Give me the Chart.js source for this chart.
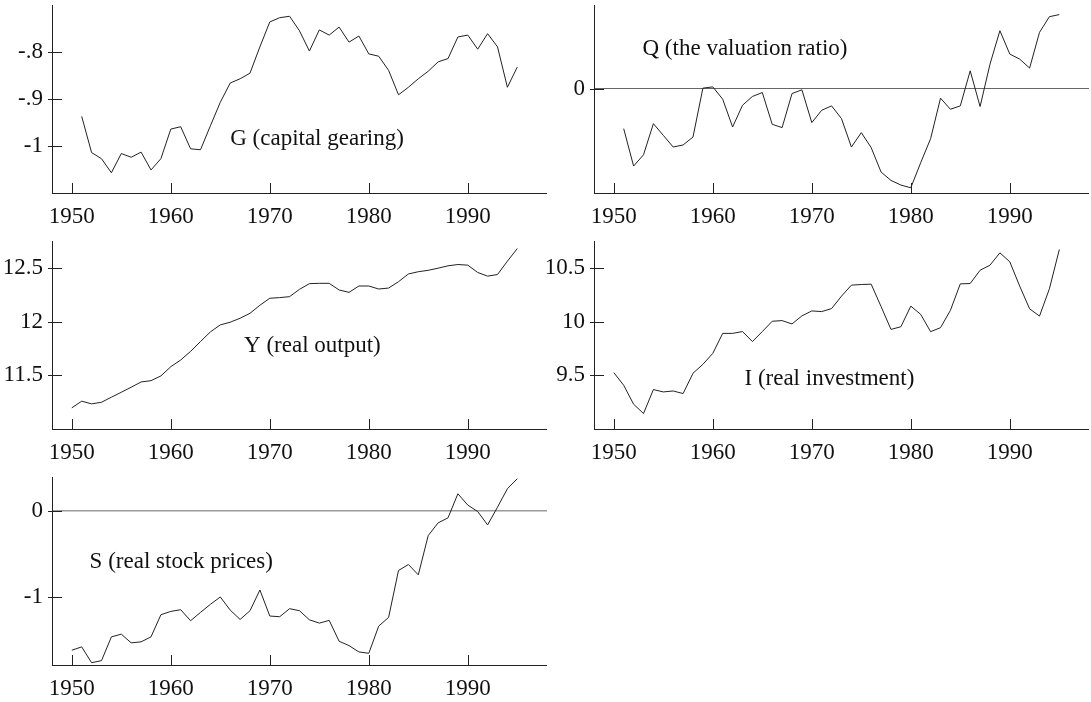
<!DOCTYPE html>
<html>
<head>
<meta charset="utf-8">
<script src="https://cdn.jsdelivr.net/npm/chart.js@4"></script>
<style>
  html, body { margin: 0; padding: 0; background: #fff; }
  #wrap { position: relative; width: 1091px; height: 702px; overflow: hidden; }
  #wrap canvas { position: absolute; }
</style>
</head>
<body>
<div id="wrap">
  <canvas id="cG"></canvas>
  <canvas id="cQ"></canvas>
  <canvas id="cY"></canvas>
  <canvas id="cI"></canvas>
  <canvas id="cS"></canvas>
</div>
<script>
'use strict';

// ---------- data (annual) ----------
const years50 = [1950, 1951, 1952, 1953, 1954, 1955, 1956, 1957, 1958, 1959,
  1960, 1961, 1962, 1963, 1964, 1965, 1966, 1967, 1968, 1969,
  1970, 1971, 1972, 1973, 1974, 1975, 1976, 1977, 1978, 1979,
  1980, 1981, 1982, 1983, 1984, 1985, 1986, 1987, 1988, 1989,
  1990, 1991, 1992, 1993, 1994, 1995];
const years51 = years50.slice(1);

// G (capital gearing), 1951-1995
const gearing = [-0.937, -1.014, -1.027, -1.057, -1.016, -1.024, -1.013, -1.051, -1.027, -0.964,
  -0.959, -1.006, -1.008, -0.957, -0.907, -0.866, -0.857, -0.845, -0.789, -0.736,
  -0.727, -0.724, -0.755, -0.798, -0.753, -0.764, -0.747, -0.779, -0.766, -0.804,
  -0.809, -0.839, -0.891, -0.875, -0.857, -0.841, -0.821, -0.814, -0.768, -0.764,
  -0.794, -0.761, -0.789, -0.875, -0.832];

// Q (the valuation ratio), 1951-1995
const valuation = [-0.192, -0.371, -0.317, -0.168, -0.224, -0.28, -0.27, -0.232, 0.002, 0.008,
  -0.051, -0.184, -0.08, -0.038, -0.019, -0.171, -0.187, -0.024, -0.006, -0.163,
  -0.104, -0.083, -0.144, -0.28, -0.211, -0.283, -0.4, -0.44, -0.462, -0.475,
  -0.355, -0.24, -0.046, -0.099, -0.083, 0.085, -0.086, 0.117, 0.277, 0.165,
  0.141, 0.098, 0.269, 0.344, 0.354];

// Y (real output), 1950-1995
const output = [11.197, 11.259, 11.234, 11.249, 11.296, 11.342, 11.389, 11.438, 11.45, 11.494,
  11.58, 11.642, 11.723, 11.814, 11.904, 11.969, 11.994, 12.031, 12.077, 12.152,
  12.217, 12.223, 12.232, 12.3, 12.353, 12.356, 12.356, 12.294, 12.272, 12.331,
  12.331, 12.303, 12.312, 12.371, 12.443, 12.464, 12.477, 12.497, 12.519, 12.531,
  12.525, 12.457, 12.423, 12.438, 12.562, 12.68];

// I (real investment), 1950-1995
const investment = [9.525, 9.407, 9.231, 9.144, 9.367, 9.345, 9.354, 9.33, 9.519, 9.602,
  9.704, 9.89, 9.89, 9.907, 9.814, 9.907, 10.003, 10.009, 9.978, 10.053,
  10.099, 10.093, 10.121, 10.237, 10.339, 10.345, 10.348, 10.139, 9.927, 9.952,
  10.144, 10.067, 9.906, 9.943, 10.104, 10.351, 10.354, 10.478, 10.525, 10.64,
  10.556, 10.33, 10.119, 10.051, 10.305, 10.67];

// S (real stock prices), 1950-1995
const stockPrices = [-1.627, -1.588, -1.773, -1.749, -1.471, -1.439, -1.541, -1.529, -1.471, -1.212,
  -1.173, -1.153, -1.282, -1.184, -1.09, -1.004, -1.157, -1.267, -1.165, -0.922,
  -1.227, -1.235, -1.141, -1.165, -1.271, -1.31, -1.278, -1.522, -1.573, -1.647,
  -1.663, -1.345, -1.243, -0.694, -0.624, -0.745, -0.286, -0.137, -0.078, 0.204,
  0.071, -0.004, -0.161, 0.047, 0.263, 0.38];

// ---------- helpers ----------
const FONT = "'Liberation Serif', 'Times New Roman', Times, serif";
const FS = 23;
const INK = '#222';
const near = (v, step) => Math.abs(v / step - Math.round(v / step)) < 1e-6;
const fmt = (v) => String(+v.toFixed(3)).replace(/^(-?)0\./, '$1.');
const points = (xs, ys) => xs.map((x, i) => ({ x, y: ys[i] }));

// inward tick marks (long for majors) + the caption inside the plot
const tickMarks = {
  id: 'tickMarks',
  afterDraw(chart, args, o) {
    const { ctx, chartArea: a, scales: { x, y } } = chart;
    ctx.save();
    ctx.strokeStyle = INK;
    ctx.lineWidth = 1;
    ctx.beginPath();
    for (const t of x.ticks) {
      const px = Math.round(x.getPixelForValue(t.value)) + 0.5;
      ctx.moveTo(px, a.bottom);
      ctx.lineTo(px, a.bottom - (near(t.value, 10) ? 10 : 5));
    }
    for (const t of y.ticks) {
      const py = Math.round(y.getPixelForValue(t.value)) + 0.5;
      const major = near(t.value, o.yMajor);
      ctx.moveTo(a.left - (major ? 4 : 0), py);
      ctx.lineTo(a.left + (major ? 10 : 5), py);
    }
    ctx.stroke();
    ctx.fillStyle = '#111';
    ctx.font = `${FS}px ${FONT}`;
    ctx.textBaseline = 'middle';
    ctx.fillText(o.caption, x.getPixelForValue(o.at[0]), y.getPixelForValue(o.at[1]));
    ctx.restore();
  },
};

function makePanel(id, box, xs, ys, ax) {
  const cv = document.getElementById(id);
  cv.width = box.w;
  cv.height = box.h;
  cv.style.left = box.left + 'px';
  cv.style.top = box.top + 'px';
  const zero = ax.zero;
  return new Chart(cv, {
    type: 'line',
    data: { datasets: [{ data: points(xs, ys), borderColor: INK, borderWidth: 1, pointRadius: 0, tension: 0 }] },
    options: {
      responsive: false, animation: false, events: [],
      layout: { padding: { top: box.padTop, left: 0, right: 0, bottom: 0 } },
      plugins: {
        legend: { display: false }, tooltip: { enabled: false },
        tickMarks: { yMajor: ax.major, caption: ax.caption, at: ax.at },
      },
      scales: {
        x: {
          type: 'linear', min: 1948, max: 1998,
          grid: { display: false, drawTicks: false },
          border: { display: true, color: INK, width: 1 },
          ticks: {
            stepSize: 2, autoSkip: false, maxRotation: 0, padding: 10, color: '#111',
            font: { family: FONT, size: FS },
            callback: (v) => (near(v, 10) ? String(v) : null),
          },
          afterFit(s) { s.height = box.axisH; s.paddingLeft = 0; s.paddingRight = 0; },
        },
        y: {
          min: ax.min, max: ax.max,
          grid: zero
            ? { display: true, drawTicks: false,
                color: (c) => (c.tick && Math.abs(c.tick.value) < 1e-9 ? zero.color : 'rgba(0,0,0,0)'),
                lineWidth: zero.width }
            : { display: false, drawTicks: false },
          border: { display: true, color: INK, width: 1 },
          ticks: {
            stepSize: ax.step, autoSkip: false, padding: 9, color: '#111',
            font: { family: FONT, size: FS },
            callback: (v) => (near(v, ax.major) && v > ax.min + 1e-9 && v < ax.max - 1e-9 ? fmt(v) : null),
          },
          afterFit(s) { s.width = box.axisW; s.paddingTop = 0; s.paddingBottom = 0; },
        },
      },
    },
    plugins: [tickMarks],
  });
}

// ---------- panels ----------
makePanel('cG', { left: 0, top: 0, w: 547, h: 230, axisW: 52, padTop: 5, axisH: 37 }, years51, gearing,
  { min: -1.1, max: -0.7, step: 0.05, major: 0.1, caption: 'G (capital gearing)', at: [1966.0, -0.986] });

makePanel('cQ', { left: 540, top: 0, w: 549, h: 230, axisW: 54, padTop: 5, axisH: 37 }, years51, valuation,
  { min: -0.5, max: 0.4, step: 0.1, major: 0.5, caption: 'Q (the valuation ratio)', at: [1952.9, 0.189],
    zero: { color: '#666', width: 1 } });

makePanel('cY', { left: 0, top: 230, w: 547, h: 236, axisW: 52, padTop: 11, axisH: 37 }, years50, output,
  { min: 11, max: 12.75, step: 0.25, major: 0.5, caption: 'Y (real output)', at: [1967.4, 11.77] });

makePanel('cI', { left: 540, top: 230, w: 549, h: 236, axisW: 54, padTop: 11, axisH: 37 }, years50, investment,
  { min: 9, max: 10.75, step: 0.25, major: 0.5, caption: 'I (real investment)', at: [1963.2, 9.47] });

makePanel('cS', { left: 0, top: 466, w: 547, h: 236, axisW: 52, padTop: 11, axisH: 37 }, years50, stockPrices,
  { min: -1.8, max: 0.4, step: 0.2, major: 1, caption: 'S (real stock prices)', at: [1951.8, -0.59],
    zero: { color: '#999', width: 1.5 } });
</script>
</body>
</html>
